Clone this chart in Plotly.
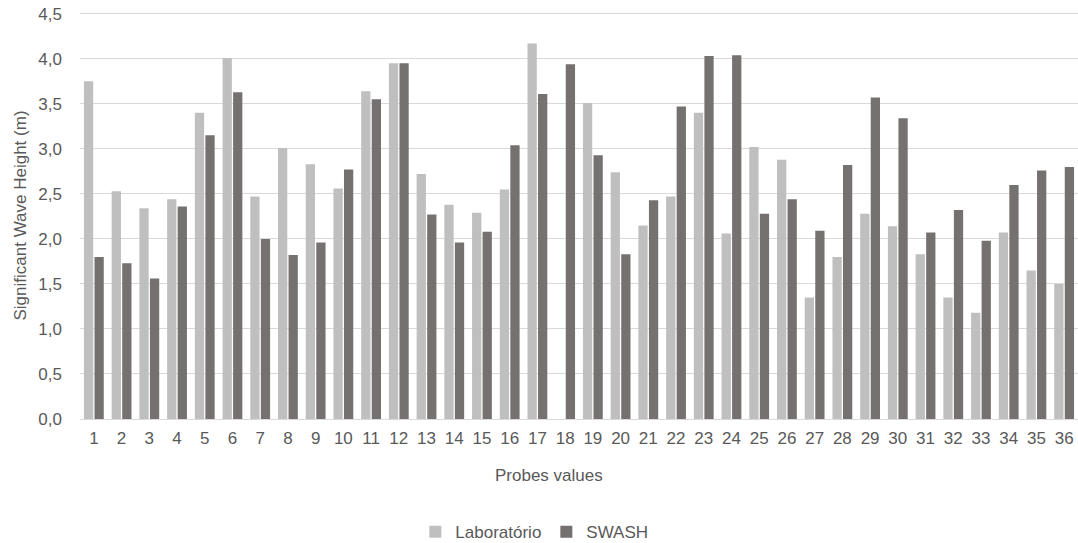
import plotly.graph_objects as go

categories = [str(i) for i in range(1, 37)]
laboratorio = [3.75, 2.53, 2.34, 2.44, 3.40, 4.01, 2.47, 3.01, 2.83, 2.56,
               3.64, 3.95, 2.72, 2.38, 2.29, 2.55, 4.17, None, 3.51, 2.74,
               2.15, 2.47, 3.40, 2.06, 3.02, 2.88, 1.35, 1.80, 2.28, 2.14,
               1.83, 1.35, 1.18, 2.07, 1.65, 1.50]
swash = [1.80, 1.73, 1.56, 2.36, 3.15, 3.63, 2.00, 1.82, 1.96, 2.77,
         3.55, 3.95, 2.27, 1.96, 2.08, 3.04, 3.61, 3.94, 2.93, 1.83,
         2.43, 3.47, 4.03, 4.04, 2.28, 2.44, 2.09, 2.82, 3.57, 3.34,
         2.07, 2.32, 1.98, 2.60, 2.76, 2.80]
y_ticks = [0, 0.5, 1.0, 1.5, 2.0, 2.5, 3.0, 3.5, 4.0, 4.5]
y_tick_labels = ["0,0", "0,5", "1,0", "1,5", "2,0", "2,5", "3,0", "3,5", "4,0", "4,5"]

font_family = "Liberation Sans, Arial, sans-serif"
text_color = "#595959"
fs = 17

fig = go.Figure()
fig.add_trace(go.Bar(name="Laboratório", x=categories, y=laboratorio,
                     marker=dict(color="#BFBFBF", line=dict(width=0))))
fig.add_trace(go.Bar(name="SWASH", x=categories, y=swash,
                     marker=dict(color="#767171", line=dict(width=0))))

fig.update_layout(
    width=1078, height=543,
    margin=dict(l=80, r=0, t=12, b=124, autoexpand=False),
    paper_bgcolor="white", plot_bgcolor="white",
    barmode="group", bargap=0.24, bargroupgap=0.12,
    font=dict(family=font_family, color=text_color, size=fs),
    showlegend=True,
    legend=dict(orientation="h", x=0.336, xanchor="left", y=-0.278, yanchor="middle",
                font=dict(size=fs, color=text_color), itemwidth=30,
                traceorder="normal"),
    xaxis=dict(
        type="category",
        showgrid=False, showline=True, linecolor="#D9D9D9", linewidth=1,
        ticks="", tickfont=dict(size=fs, color=text_color),
        ticklabelstandoff=4,
    ),
    yaxis=dict(
        range=[0, 4.52],
        tickvals=y_ticks, ticktext=y_tick_labels,
        showgrid=True, gridcolor="#D9D9D9", gridwidth=1,
        zeroline=False, showline=False, ticks="",
        tickfont=dict(size=fs, color=text_color),
        ticklabelstandoff=17, ticklabeloverflow="allow",
    ),
    annotations=[
        dict(text="Significant Wave Height (m)", xref="paper", yref="paper",
             x=0, y=0.5, xanchor="center", yanchor="middle", xshift=-60,
             textangle=-90, showarrow=False, font=dict(size=fs, color=text_color)),
        dict(text="Probes values", xref="paper", yref="paper",
             x=0.47, y=0, xanchor="center", yanchor="middle", yshift=-56,
             showarrow=False, font=dict(size=fs, color=text_color)),
    ],
)

fig.write_html("out.html", config={"displayModeBar": False},
               post_script="document.body.style.margin='0';")
